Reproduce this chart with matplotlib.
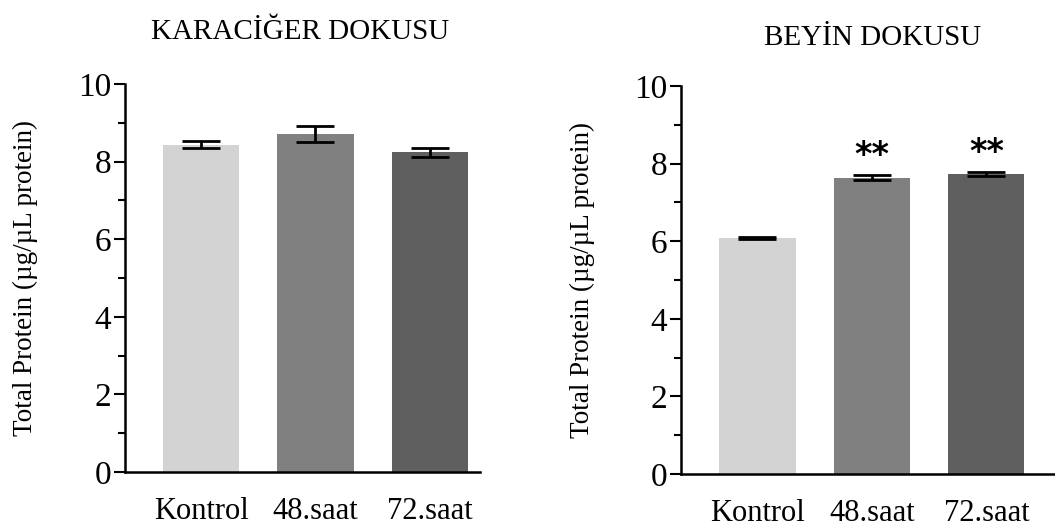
import matplotlib
matplotlib.use('Agg')
import matplotlib.pyplot as plt
from matplotlib.ticker import MultipleLocator

groups = ['Kontrol', '48.saat', '72.saat']
liver_mean = [8.44, 8.72, 8.24]
liver_err = [0.09, 0.21, 0.12]
brain_mean = [6.08, 7.64, 7.73]
brain_err = [0.02, 0.06, 0.06]
brain_marks = ['', '**', '**']
bar_colors = ['#d3d3d3', '#808080', '#5f5f5f']

plt.rcParams['font.family'] = ['Liberation Serif', 'DejaVu Serif']

W, H = 1055, 529
fig = plt.figure(figsize=(W / 100, H / 100), dpi=100)


def px_axes(x0, y0, x1, y1):
    # pixel box (top-left origin) -> figure fraction
    return fig.add_axes([x0 / W, 1 - y1 / H, (x1 - x0) / W, (y1 - y0) / H])


def draw_panel(ax, means, errs, title, xlim, title_xy, label_x):
    x = range(len(groups))
    ax.bar(x, means, width=0.665, color=bar_colors, zorder=1)
    ax.errorbar(x, means, yerr=errs, fmt='none', ecolor='black',
                elinewidth=2, capsize=13.5, capthick=2, zorder=2)
    ax.set_xlim(*xlim)
    ax.set_ylim(0, 10)
    ax.yaxis.set_major_locator(MultipleLocator(2))
    ax.yaxis.set_minor_locator(MultipleLocator(1))
    ax.set_xticks(list(x))
    ax.set_xticklabels(groups, fontsize=22)
    ax.tick_params(axis='x', length=0, pad=18)
    ax.tick_params(axis='y', which='major', length=8, width=1.5,
                   labelsize=24, pad=2)
    ax.tick_params(axis='y', which='minor', length=5, width=1.5)
    for s in ['top', 'right']:
        ax.spines[s].set_visible(False)
    for s in ['left', 'bottom']:
        ax.spines[s].set_linewidth(1.8)
    ax.set_ylabel('Total Protein (µg/µL protein)', fontsize=19.5)
    ax.yaxis.set_label_coords(label_x, 0.5)
    fig.text(title_xy[0] / W, 1 - title_xy[1] / H, title, fontsize=21,
             ha='center', va='center')


ax1 = px_axes(125, 84, 480, 472)
draw_panel(ax1, liver_mean, liver_err, 'KARACİĞER DOKUSU',
           (-0.664, 2.437), (300, 32), -0.245)

ax2 = px_axes(681, 86, 1055, 474)
draw_panel(ax2, brain_mean, brain_err, 'BEYİN DOKUSU',
           (-0.668, 2.6), (873, 38), -0.23)

# significance stars over the treated groups
for i, mark in enumerate(brain_marks):
    if mark:
        ax2.text(i, brain_mean[i] + brain_err[i] + 0.5, mark, ha='center',
                 va='center', fontsize=24, fontweight='bold',
                 family='DejaVu Sans')

fig.savefig('out.png', dpi=100)
